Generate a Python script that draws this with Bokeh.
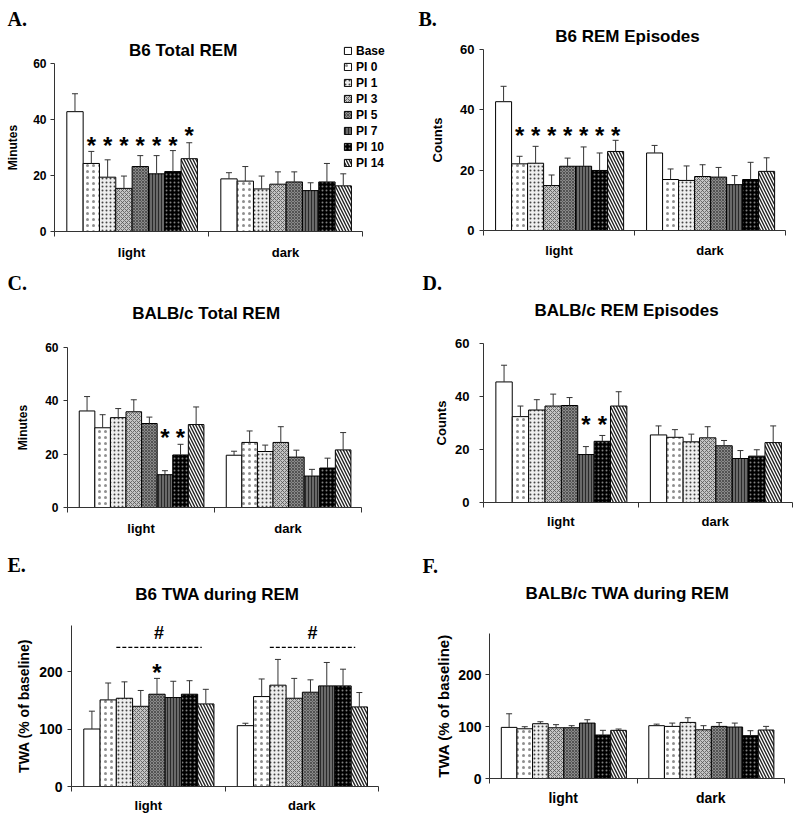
from bokeh.plotting import figure
from bokeh.models import (Range1d, FixedTicker, Legend, LegendItem, Label,
                          Whisker, TeeHead, ColumnDataSource)
from bokeh.layouts import column, row
from bokeh.core.properties import value
from bokeh.embed import file_html
from bokeh.resources import INLINE

# ---------------- data ----------------
series = ["Base", "PI 0", "PI 1", "PI 3", "PI 5", "PI 7", "PI 10", "PI 14"]
periods = ["light", "dark"]

A_light = [42.8, 24.3, 19.4, 15.4, 23.2, 20.6, 21.4, 26.0]
A_light_se = [6.4, 4.3, 6.2, 4.4, 3.9, 6.5, 7.5, 5.7]
A_dark = [18.8, 18.0, 15.2, 16.9, 17.7, 14.6, 17.7, 16.3]
A_dark_se = [2.2, 5.2, 4.6, 4.4, 3.6, 2.8, 6.6, 4.3]
A_stars = [(0, 1, 31.7), (0, 2, 31.7), (0, 3, 31.7), (0, 4, 31.7), (0, 5, 31.7), (0, 6, 31.7), (0, 7, 35.2)]

B_light = [42.7, 22.1, 22.3, 14.9, 21.3, 21.3, 19.9, 26.2]
B_light_se = [5.1, 2.5, 5.6, 3.5, 2.7, 6.4, 5.8, 3.7]
B_dark = [25.7, 16.9, 16.6, 17.9, 17.7, 15.2, 16.9, 19.6]
B_dark_se = [2.5, 3.5, 4.8, 3.9, 3.2, 3.0, 5.7, 4.5]
B_stars = [(0, i, 32.6) for i in range(1, 8)]

C_light = [36.2, 29.9, 33.7, 35.9, 31.5, 12.3, 19.7, 31.1]
C_light_se = [5.4, 4.9, 3.4, 4.5, 2.4, 1.5, 4.0, 6.6]
C_dark = [19.6, 24.4, 21.0, 24.4, 18.9, 11.8, 14.8, 21.6]
C_dark_se = [1.5, 4.3, 2.4, 5.9, 2.6, 2.5, 3.7, 6.5]
C_stars = [(0, 5, 27.2), (0, 6, 27.2)]

D_light = [45.5, 32.4, 34.9, 36.4, 36.6, 18.1, 23.1, 36.4]
D_light_se = [6.3, 4.0, 3.9, 4.5, 3.0, 3.0, 2.2, 5.4]
D_dark = [25.5, 24.6, 22.9, 24.4, 21.4, 16.6, 17.5, 22.6]
D_dark_se = [3.4, 2.9, 2.9, 4.2, 2.0, 3.0, 2.4, 6.3]
D_stars = [(0, 5, 30.4), (0, 6, 30.4)]

E_light = [100, 150.6, 153.5, 139.5, 160.5, 154.7, 160.5, 143.6]
E_light_se = [31, 29.4, 28.5, 27.5, 27.5, 28.3, 23.5, 25.4]
E_dark = [105.8, 156.4, 176.2, 153.5, 164, 175, 175, 138.4]
E_dark_se = [4.2, 30.6, 44.8, 34.5, 21.5, 40.7, 29, 25]
E_stars = [(0, 4, 203)]
E_hash_level = 242      # dashed bracket level
E_hash_mark = 268       # '#' level
E_hash_span = (2, 7)    # bracket from series PI 1 to PI 14

F_light = [98.7, 96, 105.8, 98, 98, 107, 84, 93]
F_light_se = [26.3, 4, 3.8, 6, 4, 6.5, 9, 2.5]
F_dark = [102, 100.6, 108.3, 94, 100.6, 99.4, 82.7, 93.6]
F_dark_se = [3, 6.4, 9, 8, 7.4, 7.6, 9.6, 7]

# ---------------- styles ----------------
STYLES = [
    dict(fill_color="white"),
    dict(fill_color="white", hatch_pattern=".", hatch_color="#333333", hatch_scale=6,
         hatch_alpha=0.55),
    dict(fill_color="#eeeeee", hatch_pattern=".", hatch_color="#444444", hatch_scale=4, hatch_weight=0.7),
    dict(fill_color="#c4c4c4", hatch_pattern="x", hatch_color="#555555", hatch_scale=4, hatch_weight=0.8),
    dict(fill_color="#8a8a8a", hatch_pattern="x", hatch_color="#444444", hatch_scale=3, hatch_weight=0.8),
    dict(fill_color="#6a6a6a", hatch_pattern="|", hatch_color="#2a2a2a", hatch_scale=3, hatch_weight=1),
    dict(fill_color="black", hatch_pattern=".", hatch_color="white", hatch_scale=4,
         hatch_alpha=0.5),
    dict(fill_color="white", hatch_pattern="\\", hatch_color="#222222", hatch_scale=6, hatch_weight=1.4),
]
GROUP_OFF = 0.08
BAR_W = 0.106
SANS = "Liberation Sans"
SERIF = "Liberation Serif"
LEG_ITEM_H = 14.1
LEG_SPACING = 2
LEG_H = len(series) * LEG_ITEM_H + (len(series) - 1) * LEG_SPACING


def bar_x(cat, i):
    return cat + GROUP_OFF + (i + 0.5) * BAR_W


def make_panel(box, frame, ymax, yticks, light, light_se, dark, dark_se,
               title, title_pos, letter, letter_pos, ylabel, fonts, standoffs,
               stars=(), legend_pos=None, hash_info=None):
    x0, y0, w, h = box                 # canvas box on the page (px)
    FL, FT, FR, FB = frame             # where x=0..2 and y=0..ymax fall on the page (px)
    tick_fs, xlab_fs, ylab_fs = fonts
    ylab_so, ylabel_so, xlab_so = standoffs
    sx_ = (FR - FL) / 2.0              # px per x unit
    sy_ = (FB - FT) / float(ymax)      # px per y unit
    xr0 = -(FL - x0) / sx_
    yr0 = -((y0 + h) - FB) / sy_
    x_range = Range1d(xr0, xr0 + w / sx_)
    y_range = Range1d(yr0, yr0 + h / sy_)

    def to_data(px, py):
        return xr0 + (px - x0) / sx_, yr0 + ((y0 + h) - py) / sy_

    p = figure(width=w, height=h, output_backend="svg", toolbar_location=None,
               x_range=x_range, y_range=y_range, min_border=0,
               title=None, outline_line_color=None, background_fill_color="white",
               border_fill_color="white")
    p.xgrid.visible = False
    p.ygrid.visible = False

    rends = []
    for i in range(len(series)):
        xs = [bar_x(0, i), bar_x(1, i)]
        tops = [light[i], dark[i]]
        uppers = [light[i] + light_se[i], dark[i] + dark_se[i]]
        src = ColumnDataSource(dict(x=xs, top=tops, upper=uppers))
        r = p.vbar(x="x", top="top", bottom=0, width=BAR_W, source=src,
                   line_color="black", line_width=1, **STYLES[i])
        rends.append(r)
        wk = Whisker(source=src, base="x", upper="upper", lower="top",
                     lower_head=None, line_color="#333333", line_width=1,
                     upper_head=TeeHead(size=6, line_color="#333333", line_width=1),
                     level="annotation")
        p.add_layout(wk)

    if stars:
        sx = [bar_x(c, i) for c, i, _ in stars]
        sy = [y for _, _, y in stars]
        p.text(x=sx, y=sy, text=["*"] * len(sx), text_font=value(SANS),
               text_font_style="bold", text_font_size="24px", text_align="center",
               text_baseline="alphabetic", y_offset=3, text_color="black")

    if hash_info is not None:
        level, mark, (i0, i1) = hash_info
        for c in (0, 1):
            xa = bar_x(c, i0) - BAR_W / 2
            xb = bar_x(c, i1) - BAR_W / 4
            p.line(x=[xa, xb], y=[level, level], line_color="black", line_width=1.3,
                   line_dash="4 2")
            p.text(x=[(xa + xb) / 2], y=[mark], text=["#"], text_font=value(SANS),
                   text_font_style="bold", text_font_size="18px", text_align="center",
                   text_baseline="alphabetic", y_offset=1, text_color="black")

    # axes (placed at the data origin, drawn only over the data extent)
    yax = p.yaxis[0]
    yax.fixed_location = 0
    yax.bounds = (0, ymax)
    yax.ticker = FixedTicker(ticks=yticks, minor_ticks=[])
    yax.axis_line_color = "#333333"
    yax.major_tick_line_color = "#333333"
    yax.major_tick_out = 4
    yax.major_tick_in = 0
    yax.minor_tick_out = 0
    yax.major_label_standoff = ylab_so
    yax.major_label_text_font = SANS
    yax.major_label_text_font_style = "bold"
    yax.major_label_text_font_size = f"{tick_fs}px"
    yax.major_label_text_color = "black"
    yax.axis_label = ylabel
    yax.axis_label_text_font = SANS
    yax.axis_label_text_font_style = "bold"
    yax.axis_label_text_font_size = f"{ylab_fs}px"
    yax.axis_label_text_color = "black"
    yax.axis_label_standoff = ylabel_so

    xax = p.xaxis[0]
    xax.fixed_location = 0
    xax.bounds = (0, 2)
    xax.ticker = FixedTicker(ticks=[0.5, 1.5], minor_ticks=[0, 1, 2])
    xax.major_label_overrides = {0.5: periods[0], 1.5: periods[1]}
    xax.axis_line_color = "#333333"
    xax.major_tick_out = 0
    xax.major_tick_in = 0
    xax.minor_tick_out = 5
    xax.minor_tick_in = 0
    xax.minor_tick_line_color = "#333333"
    xax.major_label_standoff = xlab_so
    xax.major_label_text_font = SANS
    xax.major_label_text_font_style = "bold"
    xax.major_label_text_font_size = f"{xlab_fs}px"
    xax.major_label_text_color = "black"

    # title and panel letter
    tx, ty = to_data(*title_pos)
    p.add_layout(Label(x=tx, y=ty, text=title, text_align="center", text_baseline="middle",
                       text_font=SANS, text_font_style="bold", text_font_size="17px",
                       text_color="black"))
    lx, ly = to_data(*letter_pos)
    p.add_layout(Label(x=lx, y=ly, text=letter, text_align="left", text_baseline="middle",
                       text_font=SERIF, text_font_style="bold", text_font_size="20px",
                       text_color="black"))

    if legend_pos is not None:
        gx, gy = legend_pos
        items = [LegendItem(label=s, renderers=[r]) for s, r in zip(series, rends)]
        leg = Legend(items=items, location=(gx - x0, (y0 + h) - gy - LEG_H), glyph_width=9,
                     glyph_height=9, label_height=12, spacing=LEG_SPACING, padding=0, margin=0,
                     label_standoff=4, border_line_color=None, background_fill_alpha=0,
                     label_text_font=SANS, label_text_font_style="bold",
                     label_text_font_size="12px", label_text_color="black")
        p.add_layout(leg)
    return p


W = 400
R1, R2, R3 = 0, 272, 548
H1, H2, H3 = 272, 276, 270
CL, CR = 0, 400

pA = make_panel((CL, R1, W, H1), (54, 63, 362, 231), 60, [0, 20, 40, 60],
                A_light, A_light_se, A_dark, A_dark_se,
                "B6 Total  REM", (185, 50), "A.", (7, 18), "Minutes",
                (12, 13, 12), (4, 10, 8), stars=A_stars, legend_pos=(343, 43))
pB = make_panel((CR, R1, W, H1), (483, 49, 785, 230), 60, [0, 20, 40, 60],
                B_light, B_light_se, B_dark, B_dark_se,
                "B6 REM Episodes", (627, 36), "B.", (418, 18), "Counts",
                (13, 13, 13), (5, 12, 7), stars=B_stars)
pC = make_panel((CL, R2, W, H2), (67, 347, 361, 507), 60, [0, 20, 40, 60],
                C_light, C_light_se, C_dark, C_dark_se,
                "BALB/c Total  REM", (208, 313), "C.", (7, 282), "Minutes",
                (12, 13, 12), (5, 12, 8), stars=C_stars)
pD = make_panel((CR, R2, W, H2), (483, 343, 792, 502), 60, [0, 20, 40, 60],
                D_light, D_light_se, D_dark, D_dark_se,
                "BALB/c REM Episodes", (626, 310), "D.", (422, 282), "Counts",
                (13, 13, 13), (10, 3, 6), stars=D_stars)
pE = make_panel((CL, R3, W, H3), (71, 625, 378, 786), 280, [0, 100, 200],
                E_light, E_light_se, E_dark, E_dark_se,
                "B6 TWA during REM", (217, 594), "E.", (7, 564), "TWA (% of baseline)",
                (14, 13, 14), (5, 4, 6), stars=E_stars,
                hash_info=(E_hash_level, E_hash_mark, E_hash_span))
pF = make_panel((CR, R3, W, H3), (489, 633, 784, 778), 280, [0, 100, 200],
                F_light, F_light_se, F_dark, F_dark_se,
                "BALB/c TWA during REM", (627, 593), "F.", (422, 565), "TWA (% of baseline)",
                (14, 14, 15), (4, 3, 6))

layout = column(row(pA, pB), row(pC, pD), row(pE, pF))
open("out.html", "w").write(file_html(layout, INLINE))
